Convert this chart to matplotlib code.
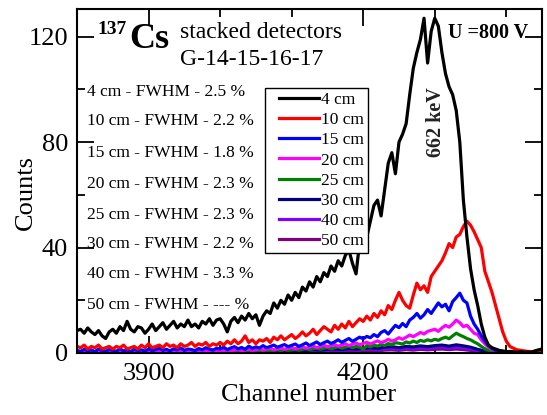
import numpy as np
import matplotlib
matplotlib.use("Agg")
import matplotlib.pyplot as plt
import matplotlib.lines as mlines
from matplotlib.ticker import MultipleLocator
from matplotlib.legend_handler import HandlerLine2D

plt.rcParams['font.family'] = ['Liberation Serif', 'DejaVu Serif']

# ---------------- data ----------------
ch5 = np.arange(3800, 4451, 5)     # channel grid, step 5
ch10 = np.arange(3800, 4451, 10)   # channel grid, step 10

cnt_4cm = [
    8.5, 9, 7.5, 9.5, 8, 7, 8.5, 6.5, 5.5, 8, 9, 7.5, 10, 8.5, 12, 9, 8, 10, 9.5, 7.5,
    9, 11, 8.5, 10, 11.5, 9, 10.5, 12, 9.5, 11, 10, 12.5, 10, 11, 9.5, 12, 11, 13, 10.5, 12.5,
    13, 11, 8, 12, 13.5, 11.5, 14, 12.5, 15, 13, 14.5, 10.5, 14, 16, 15, 19, 17, 20, 18.5, 22,
    20, 23, 21, 25, 23.5, 27, 25, 29, 27, 30.5, 29, 33, 31, 35, 33, 37, 39, 34, 30, 42,
    47, 44, 50, 56, 58, 52, 62, 72, 76, 68, 80, 83, 87, 98, 108, 114, 119, 127, 110, 122,
    127, 124, 114, 106, 101, 98, 92, 80, 58, 44, 32, 24, 18, 11, 6, 3, 2, 1.5, 1, 0.8,
    0.5, 0.6, 0.4, 0.3, 0.5, 0.3, 0.4, 0.3, 0.8, 1.2, 1.5]

cnt_10cm = [
    2.5, 2, 3, 1.5, 2.5, 2, 3, 1.5, 2, 2.5, 1.5, 2.5, 2, 3, 1.5, 2, 2.5, 1.5, 3, 2,
    3.5, 2, 2.5, 3, 2, 3.5, 2.5, 3, 2, 3.5, 2.5, 3, 4, 2.5, 3.5, 3, 4, 2.5, 3.5, 3,
    4, 3, 4.5, 3.5, 5, 3.5, 4.5, 6.5, 4, 5, 3.5, 5, 4.5, 5.5, 4, 6, 5, 6.5, 5, 6,
    7, 5.5, 6.5, 8, 6.5, 7.5, 9, 7, 8.5, 10, 9, 8, 10.5, 9, 11, 9.5, 12, 10, 11.5, 13,
    12, 14, 12.5, 15, 13.5, 16, 14.5, 18, 16.5, 20, 23, 20, 18, 17, 22, 26.5, 24, 25.5, 23, 29,
    31, 33, 35, 38, 41.5, 40, 44, 45, 48, 50, 48.5, 46, 43, 40, 31, 27, 23, 18, 13, 8,
    4.5, 2.5, 1.8, 1.2, 1, 0.8, 0.6, 0.5, 0.6, 0.8, 1.0]

cnt_15cm = [
    1.0, 0.6, 1.4, 0.8, 1.2, 0.5, 1.5, 0.9, 0.7, 1.3, 1.0, 0.6, 1.6, 0.8, 1.1, 0.5, 1.4, 0.9, 1.2, 0.7,
    1.5, 0.9, 1.3, 1.8, 1.0, 1.4, 0.8, 1.6, 1.2, 1.9, 1.0, 1.5, 1.3, 0.9, 1.7, 1.2, 2.0, 1.4, 1.1, 1.8,
    1.5, 2.2, 1.3, 1.9, 2.4, 1.6, 2.1, 1.4, 2.6, 1.8, 2.3, 1.9, 2.8, 2.0, 2.5, 3.0, 2.2, 2.7, 3.2, 2.4,
    2.9, 3.4, 2.5, 3.1, 3.8, 2.8, 3.5, 4.2, 3.2, 3.9, 4.5, 3.6, 4.2, 5.0, 4.0, 4.8, 5.5, 4.4, 5.2, 6.0,
    5.4, 6.3, 5.8, 7.0, 6.2, 7.8, 8.5, 7.2, 8.9, 10.5, 9.6, 11.2, 10.0, 12.5, 13.5, 15.0, 13.2, 14.5, 16.5, 15.0,
    17.0, 19.0, 17.5, 18.5, 16.0, 19.5, 21.0, 22.7, 20.0, 19.0, 14.0, 11.0, 9.0, 6.5, 4.5, 2.8, 1.8, 1.0, 0.7, 0.5,
    0.6, 0.4, 0.3, 0.4, 0.2, 0.3, 0.2, 0.3, 0.2, 0.2, 0.3]

cnt_20cm = [
    0.5, 0.3, 0.8, 0.4, 0.6, 0.2, 0.7, 0.5, 0.3, 0.8, 0.4, 0.6, 0.3, 0.7, 0.5, 0.2, 0.6, 0.4, 0.8, 0.5,
    0.6, 0.4, 0.9, 0.5, 0.7, 0.3, 0.8, 0.6, 1.0, 0.5, 0.7, 0.9, 0.4, 0.8, 1.1, 0.6, 0.9, 0.7, 1.2, 0.8,
    1.0, 0.7, 1.3, 0.9, 1.1, 1.4, 0.8, 1.2, 1.5, 1.0, 1.3, 1.6, 1.1, 1.5, 1.8, 1.2, 1.6, 1.9, 1.4, 1.8,
    2.1, 1.6, 2.0, 2.4, 1.8, 2.2, 2.7, 2.0, 2.5, 3.0, 2.3, 2.8, 3.2, 2.6, 3.0, 3.5, 2.8, 3.3, 3.8, 3.1,
    3.6, 4.1, 3.4, 4.0, 4.6, 3.9, 4.4, 5.2, 4.5, 5.0, 5.8, 5.2, 6.0, 6.8, 6.2, 7.0, 7.8, 7.2, 8.2, 8.6,
    9.0, 8.2, 9.5, 10.5, 9.8, 11.0, 12.5, 11.5, 10.0, 10.5, 9.0, 7.5, 7.0, 5.0, 3.5, 2.2, 1.4, 0.9, 0.6, 0.4,
    0.3, 0.2, 0.3, 0.2, 0.2, 0.1, 0.2, 0.1, 0.2, 0.1, 0.2]

cnt_25cm = [
    0.3, 0.1, 0.4, 0.2, 0.3, 0.1, 0.4, 0.2, 0.3, 0.2, 0.4, 0.1, 0.3, 0.2, 0.4, 0.1, 0.3, 0.2, 0.4, 0.2,
    0.3, 0.5, 0.2, 0.4, 0.3, 0.5, 0.2, 0.4, 0.6, 0.3, 0.5, 0.4, 0.6, 0.3, 0.5, 0.7, 0.4, 0.6, 0.5, 0.7,
    0.5, 0.8, 0.6, 0.4, 0.7, 0.9, 0.6, 0.8, 0.5, 0.9, 0.7, 1.0, 0.8, 1.1, 0.7, 1.0, 1.2, 0.9, 1.3, 1.0,
    1.2, 1.5, 1.1, 1.4, 1.7, 1.2, 1.6, 1.9, 1.4, 1.8, 2.1, 1.6, 2.0, 2.4, 1.8, 2.2, 2.6, 2.0, 2.5, 2.2,
    1.5, 2.8, 2.3, 3.0, 2.6, 3.3, 2.8, 3.6, 3.1, 3.9, 3.7, 3.4, 4.2, 3.8, 4.5, 4.0, 4.8, 4.4, 5.0, 4.6,
    5.2, 4.8, 5.5, 6.0, 5.4, 6.5, 7.5, 6.8, 6.2, 5.5, 5.0, 4.2, 3.5, 2.5, 1.6, 1.0, 0.6, 0.4, 0.3, 0.2,
    0.2, 0.1, 0.2, 0.1, 0.1, 0.1, 0.2, 0.1, 0.1, 0.1, 0.1]

cnt_30cm = [
    0.3, 0.2, 0.4, 0.2, 0.3, 0.4, 0.2, 0.3, 0.5, 0.3,
    0.4, 0.3, 0.5, 0.3, 0.4, 0.6, 0.4, 0.5, 0.3, 0.6,
    0.5, 0.7, 0.5, 0.8, 0.6, 0.7, 0.9, 0.7, 1.0, 0.8,
    1.0, 1.2, 0.9, 1.3, 1.1, 1.4, 1.6, 1.3, 1.7, 1.5,
    1.8, 2.0, 1.7, 2.2, 2.4, 2.0, 2.5, 2.3, 2.7, 2.4,
    2.8, 3.0, 2.6, 3.1, 2.7, 2.2, 1.4, 0.7, 0.3, 0.2,
    0.1, 0.1, 0.1, 0.1, 0.1, 0.1]

cnt_40cm = [
    0.2, 0.1, 0.3, 0.1, 0.2, 0.3, 0.1, 0.2, 0.3, 0.2,
    0.3, 0.2, 0.4, 0.2, 0.3, 0.4, 0.3, 0.4, 0.2, 0.4,
    0.4, 0.5, 0.3, 0.6, 0.4, 0.5, 0.7, 0.5, 0.7, 0.6,
    0.7, 0.9, 0.7, 1.0, 0.8, 1.0, 1.2, 0.9, 1.3, 1.1,
    1.3, 1.5, 1.2, 1.6, 1.8, 1.5, 1.9, 1.7, 2.0, 1.8,
    2.1, 2.3, 1.9, 2.2, 1.9, 1.5, 1.0, 0.5, 0.2, 0.1,
    0.1, 0.1, 0.1, 0.1, 0.1, 0.1]

cnt_50cm = [
    0.1, 0.2, 0.1, 0.2, 0.1, 0.2, 0.1, 0.2, 0.2, 0.1,
    0.2, 0.1, 0.2, 0.3, 0.2, 0.2, 0.3, 0.2, 0.3, 0.2,
    0.3, 0.3, 0.2, 0.4, 0.3, 0.4, 0.4, 0.3, 0.5, 0.4,
    0.5, 0.6, 0.5, 0.7, 0.6, 0.7, 0.8, 0.6, 0.9, 0.8,
    0.9, 1.0, 0.8, 1.1, 1.2, 1.0, 1.3, 1.1, 1.4, 1.2,
    1.4, 1.5, 1.3, 1.5, 1.3, 1.0, 0.7, 0.4, 0.2, 0.1,
    0.1, 0.1, 0.1, 0.1, 0.1, 0.1]

series_labels = ['4 cm', '10 cm', '15 cm', '20 cm', '25 cm', '30 cm', '40 cm', '50 cm']
distances = ['4', '10', '15', '20', '25', '30', '40', '50']
fwhm_values = ['2.5', '2.2', '1.8', '2.3', '2.3', '2.2', '3.3', '---']
x_tick_labels = [3900, 4200]
y_tick_labels = [0, 40, 80, 120]


class ShiftedLineHandler(HandlerLine2D):
    """Legend line that starts a bit right of the handle box start."""
    def create_artists(self, legend, orig_handle, xdescent, ydescent, width,
                       height, fontsize, trans):
        arts = super().create_artists(legend, orig_handle, xdescent, ydescent,
                                      width, height, fontsize, trans)
        for a in arts:
            xd = np.asarray(a.get_xdata(), dtype=float)
            if xd.size >= 2:
                x0 = xd[0] + 0.21 * (xd[-1] - xd[0])
                a.set_xdata(np.linspace(x0, xd[-1], xd.size))
        return arts


# ---------------- figure ----------------
fig = plt.figure(figsize=(5.47, 4.15), dpi=100)
ax = fig.add_axes([0.1408, 0.1494, 0.8502, 0.8289])

series = [
    (ch5, cnt_4cm, '#000000'),
    (ch5, cnt_10cm, '#ff0000'),
    (ch5, cnt_15cm, '#0000ff'),
    (ch5, cnt_20cm, '#ff00ff'),
    (ch5, cnt_25cm, '#008000'),
    (ch10, cnt_30cm, '#000080'),
    (ch10, cnt_40cm, '#8000ff'),
    (ch10, cnt_50cm, '#800080'),
]
order = [7, 6, 5, 4, 3, 2, 1, 0]
handles = [None] * 8
for i in order:
    x, y, c = series[i]
    h, = ax.plot(x, y, color=c, lw=2.3, label=series_labels[i])
    handles[i] = h

ax.set_xlim(3800, 4450)
ax.set_ylim(0, 130.5)
ax.set_xticks(x_tick_labels)
ax.set_yticks(y_tick_labels)
ax.xaxis.set_minor_locator(MultipleLocator(100))
ax.yaxis.set_minor_locator(MultipleLocator(20))
ax.tick_params(axis='both', which='major', direction='in', length=12, width=1.3,
               labelsize=19, top=True, right=True)
ax.tick_params(axis='x', which='major', pad=7)
ax.tick_params(axis='y', which='major', pad=6.5)
ax.tick_params(axis='both', which='minor', direction='in', length=6, width=1.3,
               top=True, right=True)
for s in ax.spines.values():
    s.set_linewidth(1.5)

ax.set_xlabel('Channel number', fontsize=19)
ax.set_ylabel('Counts', fontsize=19)
ax.xaxis.set_label_coords(0.497, -0.090)
ax.yaxis.set_label_coords(-0.086, 0.468)

leg = ax.legend(handles=handles, loc='upper left', bbox_to_anchor=(0.404, 0.770),
                borderaxespad=0, fontsize=12.5, frameon=True, fancybox=False,
                edgecolor='black', framealpha=1, handlelength=2.9, handletextpad=0.12,
                labelspacing=0.23, borderpad=0.22,
                handler_map={mlines.Line2D: ShiftedLineHandler()})
leg.get_frame().set_linewidth(1.0)

# FWHM annotations
row_y = [0.7585, 0.674, 0.581, 0.491, 0.401, 0.317, 0.229, 0.139]
for d, f, yy in zip(distances, fwhm_values, row_y):
    ax.text(0.0215, yy, f'{d} cm - FWHM - {f} %', transform=ax.transAxes,
            fontsize=12.5, va='center', ha='left')

ax.text(0.043, 0.939, '137', transform=ax.transAxes, fontsize=14, fontweight='bold',
        va='center', ha='left')
ax.text(0.112, 0.887, 'Cs', transform=ax.transAxes, fontsize=26, fontweight='bold',
        va='baseline', ha='left')
ax.text(0.2215, 0.933, 'stacked detectors', transform=ax.transAxes, fontsize=17,
        va='center', ha='left')
ax.text(0.2215, 0.852, 'G-14-15-16-17', transform=ax.transAxes, fontsize=17,
        va='center', ha='left')
ax.text(0.798, 0.930, 'U =800 V', transform=ax.transAxes, fontsize=14.5, fontweight='bold',
        va='center', ha='left')
ax.text(0.772, 0.6715, '662 keV', transform=ax.transAxes, fontsize=14.5, fontweight='bold',
        va='center', ha='center', rotation=90, color='#222222')

fig.savefig('out.png', dpi=100)
